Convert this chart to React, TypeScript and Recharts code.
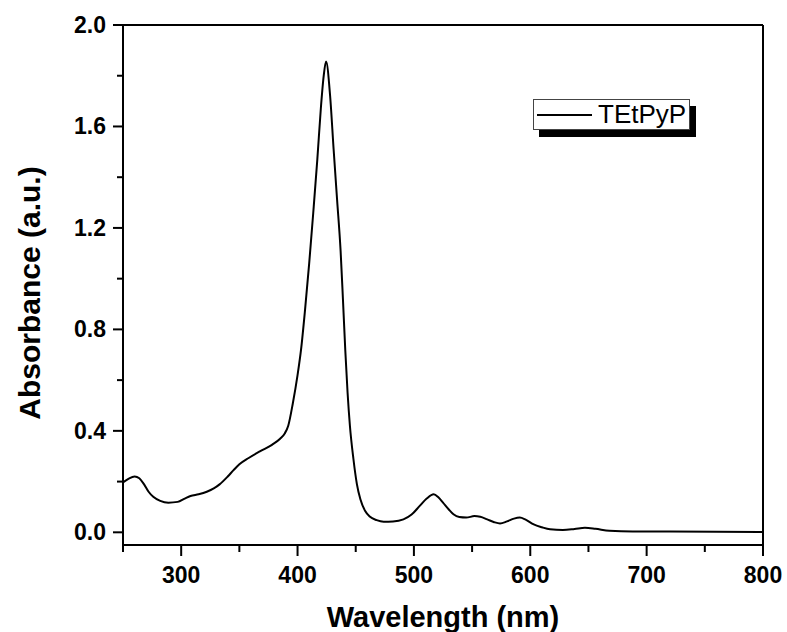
import { LineChart, Line, XAxis, YAxis, ReferenceLine } from "recharts";

// UV-vis absorbance spectrum of TEtPyP

const wavelengths = [
  250, 255, 260, 264, 268, 272, 276, 282, 289, 297, 303, 308, 315, 322, 328, 333,
  340, 345, 350, 358, 368, 378, 385, 389, 392, 396, 400, 403, 406.5, 410, 413.5, 417,
  420, 422.5, 424.5, 428, 431, 434, 437, 439, 441, 443, 445, 448, 451, 454, 458, 462, 468,
  474, 482, 491, 498, 505, 511, 517, 521, 525, 530, 534, 539, 545, 552, 557, 563,
  569, 574, 580, 586, 591, 596, 603, 610, 617, 628, 638, 647, 656, 668, 688, 720,
  760, 800,
];

const absorbance = [
  0.197, 0.212, 0.22, 0.213, 0.19, 0.16, 0.14, 0.124, 0.117, 0.12, 0.133, 0.143, 0.15, 0.16, 0.173, 0.189,
  0.22, 0.245, 0.268, 0.293, 0.32, 0.345, 0.369, 0.39, 0.42, 0.51, 0.62, 0.72, 0.88, 1.06, 1.26, 1.47,
  1.67, 1.8, 1.856, 1.72, 1.51, 1.31, 1.11, 0.92, 0.72, 0.55, 0.42, 0.29, 0.19, 0.13, 0.085, 0.062, 0.048,
  0.042, 0.043, 0.051, 0.07, 0.104, 0.133, 0.15, 0.138, 0.117, 0.09, 0.071, 0.06, 0.058, 0.064, 0.061, 0.051,
  0.04, 0.035, 0.043, 0.054, 0.058, 0.05, 0.031, 0.02, 0.012, 0.009, 0.013, 0.018, 0.014, 0.006, 0.003, 0.003,
  0.002, 0.001,
];

const xTicks = [250, 300, 350, 400, 450, 500, 550, 600, 650, 700, 750, 800];
const yTicks = [0, 0.2, 0.4, 0.6, 0.8, 1.0, 1.2, 1.4, 1.6, 1.8, 2.0];

const seriesName = "TEtPyP";

const data = wavelengths.map((w, i) => ({ wl: w, abs: absorbance[i] }));

const FONT = "Arial, 'Liberation Sans', Helvetica, sans-serif";
const PLOT_LEFT = 123;
const PLOT_BOTTOM = 545;

const YTick = ({ y, payload }: any) => {
  const v = payload.value;
  const major = Math.abs(Math.round(v / 0.4) * 0.4 - v) < 1e-6;
  return (
    <g>
      <line x1={PLOT_LEFT - (major ? 10 : 6)} x2={PLOT_LEFT} y1={y} y2={y} stroke="#000" strokeWidth={2} />
      {major && (
        <text x={PLOT_LEFT - 17} y={y} textAnchor="end" dominantBaseline="central"
          fontFamily={FONT} fontWeight="bold" fontSize={23} fill="#000">
          {v.toFixed(1)}
        </text>
      )}
    </g>
  );
};

const XTick = ({ x, payload }: any) => {
  const v = payload.value;
  const major = v % 100 === 0;
  return (
    <g>
      <line x1={x} x2={x} y1={PLOT_BOTTOM} y2={PLOT_BOTTOM + (major ? 11 : 7)} stroke="#000" strokeWidth={2} />
      {major && (
        <text x={x} y={583} textAnchor="middle" fontFamily={FONT} fontWeight="bold" fontSize={23} fill="#000">
          {v}
        </text>
      )}
    </g>
  );
};

const XTitle = ({ viewBox }: any) => (
  <text x={viewBox.x + viewBox.width / 2} y={viewBox.y + 82} textAnchor="middle"
    fontFamily={FONT} fontWeight="bold" fontSize={29} fill="#000">
    Wavelength (nm)
  </text>
);

const YTitle = ({ viewBox }: any) => {
  const cx = viewBox.x + 40;
  const cy = viewBox.y + viewBox.height / 2 + 8;
  return (
    <text x={cx} y={cy} transform={`rotate(-90 ${cx} ${cy})`} textAnchor="middle"
      fontFamily={FONT} fontWeight="bold" fontSize={30} fill="#000">
      Absorbance (a.u.)
    </text>
  );
};

export default function App() {
  return (
    <div style={{ position: "relative", width: 787, height: 632, background: "#fff" }}>
      <style>{"body{margin:0}"}</style>
      <LineChart width={787} height={632} data={data} margin={{ top: 25, right: 24, left: 0, bottom: 0 }}>
        <XAxis
          dataKey="wl"
          type="number"
          domain={[250, 800]}
          ticks={xTicks}
          interval={0}
          height={87}
          tickLine={false}
          tick={<XTick />}
          axisLine={{ stroke: "#000", strokeWidth: 2 }}
          label={<XTitle />}
        />
        <YAxis
          type="number"
          domain={[-0.05, 2.0]}
          ticks={yTicks}
          interval={0}
          width={123}
          tickLine={false}
          tick={<YTick />}
          axisLine={{ stroke: "#000", strokeWidth: 2 }}
          label={<YTitle />}
        />
        <ReferenceLine y={2.0} stroke="#000" strokeWidth={2} />
        <ReferenceLine x={800} stroke="#000" strokeWidth={2} />
        <Line
          type="monotone"
          dataKey="abs"
          name={seriesName}
          stroke="#000"
          strokeWidth={2}
          dot={false}
          isAnimationActive={false}
        />
      </LineChart>
      <div
        style={{
          position: "absolute",
          left: 533,
          top: 99,
          width: 157,
          height: 31,
          boxSizing: "border-box",
          border: "1px solid #444",
          background: "#fff",
          boxShadow: "6px 7px 0 #000",
        }}
      >
        <div style={{ position: "absolute", left: 3, top: 14, width: 55, height: 2, background: "#000" }} />
        <span
          style={{
            position: "absolute",
            left: 64,
            top: 0,
            fontFamily: FONT,
            fontSize: 26,
            lineHeight: "29px",
            color: "#000",
            whiteSpace: "nowrap",
          }}
        >
          {seriesName}
        </span>
      </div>
    </div>
  );
}
